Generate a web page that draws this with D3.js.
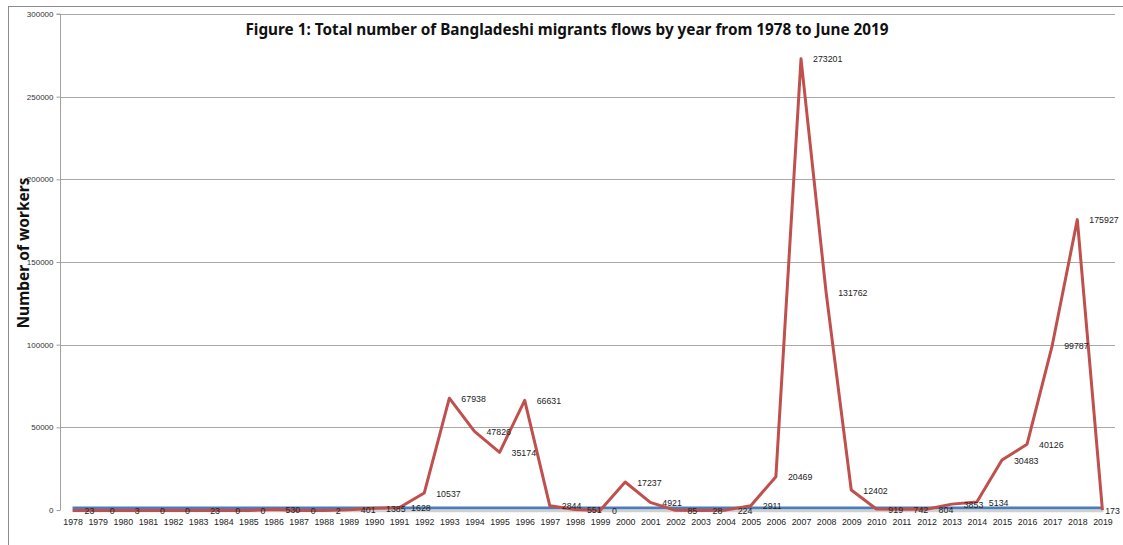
<!DOCTYPE html>
<html><head><meta charset="utf-8">
<script src="https://cdn.jsdelivr.net/npm/d3@7"></script>
<style>body{margin:0;background:#fff}svg{display:block}</style>
</head><body>
<script>
const years = ["1978","1979","1980","1981","1982","1983","1984","1985","1986","1987","1988","1989","1990","1991","1992","1993","1994","1995","1996","1997","1998","1999","2000","2001","2002","2003","2004","2005","2006","2007","2008","2009","2010","2011","2012","2013","2014","2015","2016","2017","2018","2019"];
const migrants = [23,0,3,0,0,23,0,0,530,0,2,401,1385,1628,10537,67938,47826,35174,66631,2844,551,0,17237,4921,85,28,224,2911,20469,273201,131762,12402,919,742,804,3853,5134,30483,40126,99787,175927,173];
const baseline = [1300,1300,1300,1300,1300,1300,1300,1300,1300,1300,1300,1300,1300,1300,1300,1300,1300,1300,1300,1300,1300,1300,1300,1300,1300,1300,1300,1300,1300,1300,1300,1300,1300,1300,1300,1300,1300,1300,1300,1300,1300,1300];
const yTicks = [0,50000,100000,150000,200000,250000,300000];
const title = "Figure 1: Total number of Bangladeshi migrants flows by year from 1978 to June 2019";
const yTitle = "Number of workers";

const W = 1123, H = 545;
const svg = d3.select("body").append("svg").attr("width", W).attr("height", H);
const pLeft = 60, pRight = 1115, pTop = 14, pBottom = 510;
const x = d3.scalePoint().domain(years).range([pLeft, pRight]).padding(0.5);
const y = d3.scaleLinear().domain([0, 300000]).range([pBottom, pTop]);

// outer border
svg.append("rect").attr("x", 8.5).attr("y", 6.5).attr("width", W).attr("height", H)
  .attr("fill", "none").attr("stroke", "#8c8c8c").attr("stroke-width", 1);

// gridlines
svg.append("g").selectAll("line").data(yTicks.filter(d => d > 0)).join("line")
  .attr("x1", pLeft).attr("x2", pRight)
  .attr("y1", d => Math.round(y(d)) + 0.5).attr("y2", d => Math.round(y(d)) + 0.5)
  .attr("stroke", "#a8a8a8").attr("stroke-width", 1);

// y axis
const yAxis = d3.axisLeft(y).tickValues(yTicks).tickSize(4).tickPadding(3).tickFormat(d3.format("d"));
const gy = svg.append("g").attr("transform", `translate(${pLeft + 0.5},0)`).call(yAxis);
gy.select(".domain").attr("stroke", "#a0a0a0").attr("d", `M-4,${y(300000)}H0V${pBottom}`);
gy.selectAll(".tick line").attr("stroke", "#a0a0a0");
gy.selectAll(".tick text").attr("font-family", "Liberation Sans, Arial, sans-serif")
  .attr("font-size", 8).attr("fill", "#333");

// x axis labels
const xAxis = d3.axisBottom(x).tickSize(0).tickPadding(9);
const gx = svg.append("g").attr("transform", `translate(0,${pBottom})`).call(xAxis);
gx.select(".domain").remove();
gx.selectAll(".tick text").attr("font-family", "Liberation Sans, Arial, sans-serif")
  .attr("font-size", 8.8).attr("fill", "#222");

// blue line with shadow
const lineB = d3.line().x((d, i) => x(years[i])).y(d => y(d));
svg.append("path").datum(baseline).attr("d", lineB).attr("transform", "translate(1,3)")
  .attr("fill", "none").attr("stroke", "#d0d0d0").attr("stroke-width", 3);
svg.append("path").datum(baseline).attr("d", lineB)
  .attr("fill", "none").attr("stroke", "#4a7ebb").attr("stroke-width", 2.8);

// red line
svg.append("path").datum(migrants).attr("d", lineB).attr("transform", "translate(0,0.5)")
  .attr("fill", "none").attr("stroke", "#c0504d").attr("stroke-width", 3).attr("stroke-linejoin", "round");

// data labels
svg.append("g").selectAll("text").data(migrants).join("text")
  .attr("x", (d, i) => x(years[i]) + 12)
  .attr("y", d => y(d) + 1)
  .attr("dy", "0.35em")
  .attr("font-family", "Liberation Sans, Arial, sans-serif")
  .attr("font-size", 8.8).attr("fill", "#222")
  .text(d => d)
  .each(function () {
    const bb = this.getBBox();
    if (bb.x + bb.width > W - 3) d3.select(this).attr("x", W - 3 - bb.width);
  });

// title
svg.append("text").attr("x", 567).attr("y", 35).attr("text-anchor", "middle")
  .attr("font-family", "Noto Sans, Open Sans, sans-serif").attr("font-weight", "bold")
  .attr("font-size", 15.3).attr("fill", "#111").text(title);

// y title
svg.append("text").attr("transform", "translate(29,253) rotate(-90)").attr("text-anchor", "middle")
  .attr("font-family", "Noto Sans, Open Sans, sans-serif").attr("font-weight", "bold")
  .attr("font-size", 15.5).attr("fill", "#111").text(yTitle);
</script>
</body></html>
